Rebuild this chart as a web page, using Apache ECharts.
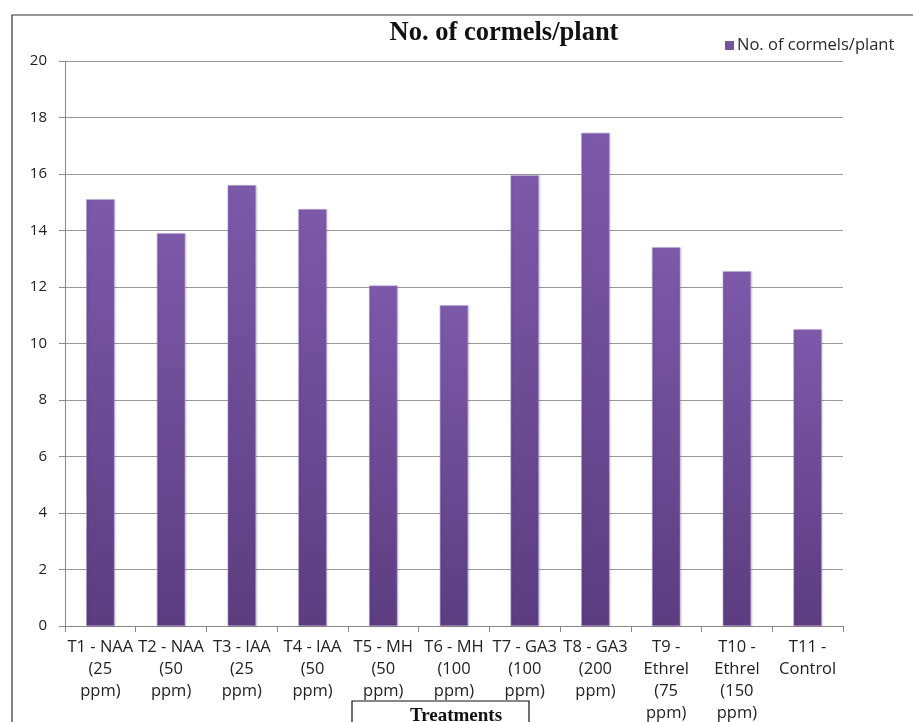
<!DOCTYPE html>
<html>
<head>
<meta charset="utf-8">
<script src="https://cdn.jsdelivr.net/npm/echarts@6/dist/echarts.min.js"></script>
<style>
  html, body { margin: 0; padding: 0; background: #fff; }
  #chart { width: 913px; height: 722px; }
</style>
</head>
<body>
<div id="chart"></div>
<script>
// Treatments on the x axis (line breaks match the wrapped labels)
const categories = [
  'T1 - NAA\n(25\nppm)',
  'T2 - NAA\n(50\nppm)',
  'T3 - IAA\n(25\nppm)',
  'T4 - IAA\n(50\nppm)',
  'T5 - MH\n(50\nppm)',
  'T6 - MH\n(100\nppm)',
  'T7 - GA3\n(100\nppm)',
  'T8 - GA3\n(200\nppm)',
  'T9 -\nEthrel\n(75\nppm)',
  'T10 -\nEthrel\n(150\nppm)',
  'T11 -\nControl'
];

// Mean number of cormels per plant for each treatment
const cormelsPerPlant = [15.1, 13.9, 15.6, 14.75, 12.05, 11.35, 15.95, 17.45, 13.4, 12.55, 10.5];

const seriesName = 'No. of cormels/plant';
const yTicks = { min: 0, max: 20, interval: 2 };

const chart = echarts.init(document.getElementById('chart'));

const barGradient = new echarts.graphic.LinearGradient(0, 0, 0, 1, [
  { offset: 0, color: '#7c59a9' },
  { offset: 1, color: '#5b3d80' }
]);

chart.setOption({
  animation: false,
  backgroundColor: '#ffffff',
  title: {
    text: 'No. of cormels/plant',
    left: 499,
    top: 15,
    textAlign: 'center',
    textStyle: {
      fontFamily: 'Liberation Serif',
      fontWeight: 'bold',
      fontSize: 26.5,
      color: '#111'
    }
  },
  legend: {
    data: [{
      name: seriesName,
      itemStyle: { color: '#7654a2', borderWidth: 0, shadowBlur: 0 }
    }],
    left: 720,
    top: 32,
    icon: 'rect',
    itemWidth: 9,
    itemHeight: 9,
    itemGap: 4,
    textStyle: {
      fontFamily: 'Open Sans',
      fontSize: 16.5,
      color: '#2a2a2a',
      padding: [0, 0, 0, -2]
    }
  },
  grid: {
    left: 65,
    right: 70,
    top: 61,
    bottom: 96,
    containLabel: false,
    outerBoundsMode: 'none'
  },
  xAxis: {
    type: 'category',
    data: categories,
    axisLine: { lineStyle: { color: '#888', width: 1 } },
    axisTick: { show: true, alignWithLabel: false, length: 6, lineStyle: { color: '#888' } },
    axisLabel: {
      interval: 0,
      margin: 10,
      fontFamily: 'Open Sans',
      fontSize: 16.5,
      lineHeight: 22,
      color: '#222'
    }
  },
  yAxis: {
    type: 'value',
    min: yTicks.min,
    max: yTicks.max,
    interval: yTicks.interval,
    axisLine: { show: true, lineStyle: { color: '#888', width: 1 } },
    axisTick: { show: true, length: 6, lineStyle: { color: '#888' } },
    splitLine: { lineStyle: { color: '#999', width: 1 } },
    axisLabel: {
      margin: 18,
      fontFamily: 'Open Sans',
      fontSize: 15,
      color: '#222'
    }
  },
  series: [{
    name: seriesName,
    type: 'bar',
    data: cormelsPerPlant,
    barWidth: '40%',
    itemStyle: {
      color: barGradient,
      borderColor: '#a98fcb',
      borderWidth: 0.6,
      shadowColor: 'rgba(0,0,0,0.15)',
      shadowBlur: 2,
      shadowOffsetX: 1
    }
  }],
  graphic: [
    {
      // outer chart frame, running off the right and bottom edges
      type: 'rect',
      shape: { x: 12, y: 15, width: 920, height: 720 },
      style: { fill: null, stroke: '#333', lineWidth: 1.2 },
      silent: true
    },
    {
      // axis title box, partly cut by the bottom edge
      type: 'rect',
      shape: { x: 352, y: 701, width: 177, height: 40 },
      style: { fill: '#fff', stroke: '#111', lineWidth: 1.2 },
      silent: true
    },
    {
      type: 'text',
      x: 456,
      y: 707,
      style: {
        text: 'Treatments',
        fontFamily: 'Liberation Serif',
        fontWeight: 'bold',
        fontSize: 19,
        fill: '#111',
        textAlign: 'center',
        textVerticalAlign: 'top'
      },
      silent: true
    }
  ]
});
</script>
</body>
</html>
